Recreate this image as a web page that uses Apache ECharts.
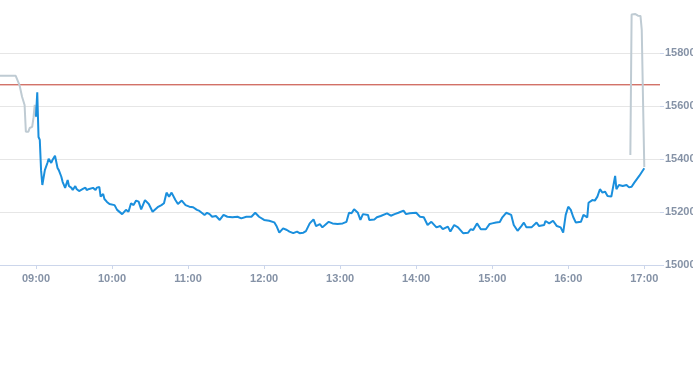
<!DOCTYPE html>
<html>
<head>
<meta charset="utf-8">
<script src="https://cdn.jsdelivr.net/npm/echarts@6/dist/echarts.min.js"></script>
<style>
html,body{margin:0;padding:0;background:#fff;}
#c{width:693px;height:365px;}
</style>
</head>
<body>
<div id="c"></div>
<script>
// Pre-market (grey)
var preTimes = ["08:31","08:44","08:47","08:49","08:51","08:52","08:54","08:55","08:57","08:58","08:59","09:00"];
var preValues = [15714,15714,15679,15635,15604,15503,15503,15517,15521,15555,15604,15558];

// Regular session (blue)
var sessTimes = ["09:00","09:01","09:02","09:03","09:04","09:05","09:07","09:09","09:10","09:12","09:13","09:15","09:17","09:18","09:20","09:21","09:23","09:25","09:26","09:28","09:29","09:31","09:32","09:34","09:35","09:37","09:39","09:40","09:42","09:43","09:45","09:47","09:48","09:50","09:51","09:53","09:54","09:56","09:58",
"10:02","10:04","10:08","10:11","10:13","10:15","10:17","10:19","10:21","10:23","10:26","10:29","10:32","10:36","10:39","10:41","10:43","10:45","10:47","10:50","10:52","10:55","10:58",
"11:01","11:04","11:07","11:09","11:13","11:15","11:17","11:19","11:22","11:25","11:28","11:31","11:35","11:39","11:42","11:46","11:50","11:53","11:56",
"12:00","12:04","12:08","12:10","12:12","12:15","12:18","12:20","12:23","12:26","12:28","12:31","12:33","12:36","12:39","12:41","12:44","12:46","12:49","12:51","12:54","12:58",
"13:02","13:05","13:07","13:09","13:11","13:14","13:16","13:18","13:22","13:23","13:27","13:29","13:32","13:37","13:40","13:43","13:46","13:50","13:52","13:55",
"14:00","14:03","14:06","14:09","14:12","14:16","14:19","14:21","14:25","14:27","14:30","14:33","14:37","14:41","14:43","14:45","14:48","14:51","14:55","14:58",
"15:00","15:03","15:06","15:08","15:11","15:15","15:17","15:20","15:23","15:25","15:27","15:31","15:32","15:35","15:37","15:41","15:42","15:45","15:48","15:51","15:54","15:56","15:58",
"16:00","16:02","16:04","16:06","16:10","16:12","16:15","16:16","16:19","16:21","16:23","16:25","16:27","16:29","16:31","16:34","16:37","16:38","16:40","16:43","16:46","16:48","16:50","16:52","16:56","17:00"];
var sessValues = [15560,15652,15483,15472,15358,15302,15358,15385,15401,15385,15396,15412,15366,15358,15333,15314,15291,15321,15298,15291,15283,15298,15287,15279,15280,15287,15292,15283,15287,15283,15291,15283,15292,15294,15258,15268,15249,15238,15230,
15226,15208,15192,15208,15201,15233,15226,15243,15239,15210,15245,15230,15201,15218,15226,15233,15273,15258,15273,15245,15230,15243,15226,
15220,15218,15208,15204,15189,15197,15192,15182,15185,15170,15189,15182,15180,15182,15176,15182,15182,15197,15182,
15170,15167,15161,15145,15122,15138,15132,15126,15120,15126,15120,15122,15128,15157,15172,15147,15154,15142,15155,15163,15157,15155,
15157,15163,15197,15195,15210,15197,15170,15192,15189,15170,15172,15180,15185,15195,15186,15192,15197,15205,15192,15195,
15197,15182,15180,15151,15163,15142,15147,15135,15145,15126,15151,15142,15120,15122,15135,15132,15157,15135,15135,15155,
15157,15160,15162,15180,15197,15189,15151,15129,15147,15160,15142,15142,15135,15160,15147,15151,15166,15157,15167,15147,15142,15122,15189,
15220,15208,15180,15160,15163,15189,15180,15235,15245,15243,15258,15286,15273,15277,15260,15258,15336,15286,15302,15298,15302,15293,15295,15310,15336,15365];

// After-hours (grey)
var postTimes = ["16:49","16:50","16:51","16:53","16:55","16:57","16:58","16:59","17:00"];
var postValues = [15415,15945,15950,15947,15941,15940,15887,15623,15370];

var refLevel = 15680;
var xTickTimes = ["09:00","10:00","11:00","12:00","13:00","14:00","15:00","16:00","17:00"];
var yTicks = [15000,15200,15400,15600,15800];

var X_MIN = 511.6, X_MAX = 1032.4;

function toMin(s){var p=s.split(":");return +p[0]*60 + +p[1];}
function fmt(m){var h=Math.floor(m/60), mm=Math.round(m-h*60);return (h<10?"0":"")+h+":"+(mm<10?"0":"")+mm;}
function pairs(t,v){return t.map(function(s,i){return [toMin(s), v[i]];});}

var labelStyle = {color:'#8592a6', fontSize:11, fontWeight:'bold', fontFamily:'Liberation Sans, Arial, sans-serif'};
var chart = echarts.init(document.getElementById('c'), null, {renderer:'canvas'});
chart.setOption({
  animation:false,
  grid:{left:0, right:33, top:0, bottom:100, containLabel:false, outerBoundsMode:'none'},
  xAxis:{
    type:'value', min:X_MIN, max:X_MAX,
    axisLine:{show:true, lineStyle:{color:'#ccd6eb', width:1}},
    axisTick:{show:true, length:4, customValues:xTickTimes.map(toMin), lineStyle:{color:'#ccd6eb'}},
    axisLabel:Object.assign({customValues:xTickTimes.map(toMin), margin:8, formatter:function(v){return fmt(v);}}, labelStyle),
    splitLine:{show:false}
  },
  yAxis:{
    type:'value', position:'right', min:15000, max:16000, interval:200,
    axisLine:{show:false},
    axisTick:{show:true, length:4, customValues:yTicks, lineStyle:{color:'#ccd6eb'}},
    axisLabel:Object.assign({customValues:yTicks, margin:5, formatter:function(v){return String(v);}}, labelStyle),
    splitLine:{show:true, lineStyle:{color:'#e6e6e6', width:1}}
  },
  series:[
    {type:'line', data:[[X_MIN, refLevel],[X_MAX, refLevel]], showSymbol:false, symbol:'none',
     lineStyle:{color:'#c0392b', width:1}, z:1, silent:true},
    {type:'line', data:pairs(preTimes,preValues), showSymbol:false, symbol:'none',
     lineStyle:{color:'#bfcbd3', width:2}, z:2},
    {type:'line', data:pairs(postTimes,postValues), showSymbol:false, symbol:'none',
     lineStyle:{color:'#bfcbd3', width:2}, z:2},
    {type:'line', data:pairs(sessTimes,sessValues), showSymbol:false, symbol:'none',
     lineStyle:{color:'#1a8fdd', width:2}, z:3}
  ]
});
</script>
</body>
</html>
